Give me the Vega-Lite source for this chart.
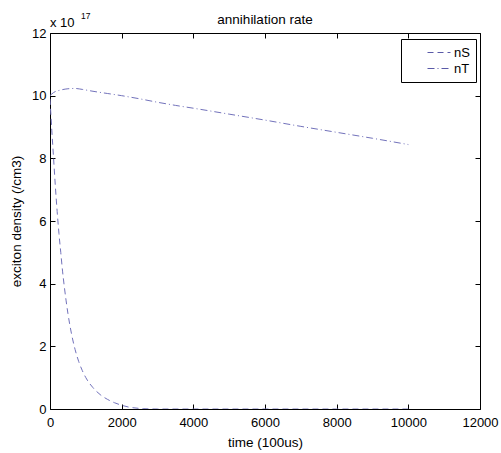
{
  "$schema": "https://vega.github.io/schema/vega-lite/v6.json",
  "width": 430,
  "height": 376,
  "autosize": {"type": "none"},
  "padding": {"left": 50, "top": 33, "right": 21, "bottom": 44},
  "background": "white",
  "config": {
    "font": "Liberation Sans",
    "view": {"stroke": "black", "strokeWidth": 1},
    "axis": {"domain": false, "ticks": false, "labelColor": "black", "titleColor": "black", "labelFontSize": 13, "titleFontSize": 13.5, "titleFontWeight": "normal", "labelPadding": 7, "labelFlush": false, "labelOverlap": false, "grid": true, "gridColor": "black", "gridOpacity": 1, "gridWidth": 1}
  },
  "title": {"text": "annihilation rate", "fontSize": 13.5, "fontWeight": "normal", "color": "black", "offset": -14, "anchor": "middle"},
  "datasets": {
    "curves": [
      {"series": "nS", "t": 0, "v": 9.9},
      {"series": "nS", "t": 50, "v": 8.9},
      {"series": "nS", "t": 100, "v": 8.0},
      {"series": "nS", "t": 150, "v": 7.1},
      {"series": "nS", "t": 200, "v": 6.3},
      {"series": "nS", "t": 250, "v": 5.6},
      {"series": "nS", "t": 300, "v": 5.0},
      {"series": "nS", "t": 350, "v": 4.4},
      {"series": "nS", "t": 400, "v": 3.9},
      {"series": "nS", "t": 450, "v": 3.45},
      {"series": "nS", "t": 500, "v": 3.05},
      {"series": "nS", "t": 600, "v": 2.4},
      {"series": "nS", "t": 700, "v": 1.9},
      {"series": "nS", "t": 800, "v": 1.52},
      {"series": "nS", "t": 900, "v": 1.23},
      {"series": "nS", "t": 1000, "v": 1.0},
      {"series": "nS", "t": 1200, "v": 0.68},
      {"series": "nS", "t": 1400, "v": 0.46},
      {"series": "nS", "t": 1600, "v": 0.31},
      {"series": "nS", "t": 1800, "v": 0.2},
      {"series": "nS", "t": 2000, "v": 0.12},
      {"series": "nS", "t": 2200, "v": 0.06},
      {"series": "nS", "t": 2400, "v": 0.03},
      {"series": "nS", "t": 2600, "v": 0.01},
      {"series": "nS", "t": 3000, "v": 0.0},
      {"series": "nS", "t": 4000, "v": 0.0},
      {"series": "nS", "t": 6000, "v": 0.0},
      {"series": "nS", "t": 8000, "v": 0.0},
      {"series": "nS", "t": 10000, "v": 0.0},
      {"series": "nT", "t": 0, "v": 10.0},
      {"series": "nT", "t": 100, "v": 10.1},
      {"series": "nT", "t": 300, "v": 10.18},
      {"series": "nT", "t": 500, "v": 10.22},
      {"series": "nT", "t": 700, "v": 10.23},
      {"series": "nT", "t": 900, "v": 10.2},
      {"series": "nT", "t": 1200, "v": 10.14},
      {"series": "nT", "t": 1600, "v": 10.07},
      {"series": "nT", "t": 2000, "v": 10.0},
      {"series": "nT", "t": 2500, "v": 9.9},
      {"series": "nT", "t": 3000, "v": 9.79},
      {"series": "nT", "t": 3500, "v": 9.69},
      {"series": "nT", "t": 4000, "v": 9.6},
      {"series": "nT", "t": 5000, "v": 9.41},
      {"series": "nT", "t": 6000, "v": 9.22},
      {"series": "nT", "t": 7000, "v": 9.02},
      {"series": "nT", "t": 8000, "v": 8.83},
      {"series": "nT", "t": 9000, "v": 8.64},
      {"series": "nT", "t": 10000, "v": 8.44}
    ]
  },
  "layer": [
    {
      "data": {"name": "curves"},
      "mark": {"type": "line", "color": "#7272bb", "strokeWidth": 1, "interpolate": "monotone", "clip": true},
      "encoding": {
        "x": {"field": "t", "type": "quantitative", "scale": {"domain": [0, 12000], "nice": false, "zero": false},
              "axis": {"orient": "bottom", "values": [0, 2000, 4000, 6000, 8000, 10000, 12000], "format": "d", "title": "time (100us)", "titlePadding": 6, "labelPadding": 7, "gridDash": [5, 366]}},
        "y": {"field": "v", "type": "quantitative", "scale": {"domain": [0, 12], "nice": false},
              "axis": {"orient": "left", "values": [0, 2, 4, 6, 8, 10, 12], "title": "exciton density (/cm3)", "titlePadding": 8, "labelPadding": 4, "gridDash": [5, 420]}},
        "strokeDash": {"field": "series", "type": "nominal",
          "scale": {"domain": ["nS", "nT"], "range": [[6, 4], [7, 3, 1, 3]]},
          "legend": {"orient": "none", "legendX": 351, "legendY": 6, "title": null, "strokeColor": "black", "fillColor": "white",
                     "padding": 6, "symbolType": "stroke", "symbolSize": 529, "symbolStrokeColor": "#5a5aa8", "symbolStrokeWidth": 1,
                     "symbolOffset": 20, "labelFontSize": 13, "labelOffset": 3, "clipHeight": 15, "rowPadding": 1, "labelColor": "black"}}
      }
    },
    {
      "data": {"values": [{"lbl": "x 10"}]},
      "mark": {"type": "text", "align": "left", "baseline": "alphabetic", "fontSize": 13, "dy": -6, "color": "black"},
      "encoding": {
        "x": {"datum": 0, "type": "quantitative", "axis": null},
        "y": {"datum": 12, "type": "quantitative", "axis": null},
        "text": {"field": "lbl"}
      }
    },
    {
      "data": {"values": [{"lbl": "17"}]},
      "mark": {"type": "text", "align": "left", "baseline": "alphabetic", "fontSize": 8.5, "dx": 31, "dy": -14, "color": "black"},
      "encoding": {
        "x": {"datum": 0, "type": "quantitative", "axis": null},
        "y": {"datum": 12, "type": "quantitative", "axis": null},
        "text": {"field": "lbl"}
      }
    }
  ],
  "resolve": {"axis": {"x": "independent", "y": "independent"}}
}
